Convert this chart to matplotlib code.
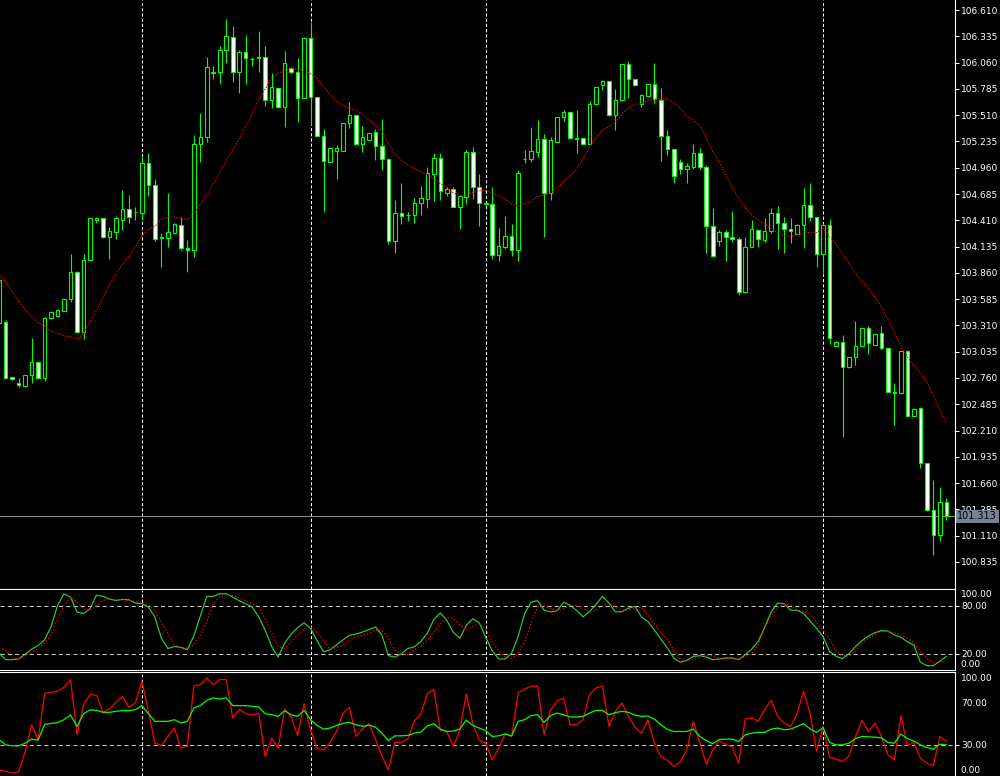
import numpy as np
import matplotlib.pyplot as plt
from matplotlib.transforms import blended_transform_factory

# OHLC bars, oldest first
opens = [103.340, 103.350, 102.768, 102.712, 102.677, 102.792, 102.928, 102.757, 103.385, 103.413,
         103.465, 103.584, 103.870, 103.238, 103.995, 104.414, 104.431, 104.232, 104.292, 104.414,
         104.525, 104.494, 104.483, 105.006, 104.776, 104.225, 104.229, 104.274, 104.358, 104.117,
         104.096, 105.205, 105.278, 105.955, 105.958, 106.192, 106.324, 105.958, 106.168, 106.101,
         106.108, 106.115, 105.669, 105.791, 105.592, 106.004, 105.962, 105.693, 106.321, 105.697,
         105.292, 105.024, 105.139, 105.139, 105.425, 105.508, 105.209, 105.250, 105.334, 105.191,
         105.048, 104.197, 104.483, 104.462, 104.462, 104.588, 104.637, 104.898, 105.059, 104.699,
         104.734, 104.553, 104.658, 105.121, 104.762, 104.588, 104.577, 104.044, 104.135, 104.243,
         104.096, 105.048, 105.055, 105.128, 105.257, 104.693, 105.233, 105.488, 105.540, 105.271,
         105.268, 105.209, 105.624, 105.822, 105.868, 105.508, 105.665, 106.042, 105.885, 105.627,
         105.714, 105.833, 105.669, 105.292, 105.153, 105.017, 104.944, 104.968, 105.111, 104.965,
         104.351, 104.194, 104.292, 104.232, 104.211, 103.664, 104.135, 104.309, 104.204, 104.299,
         104.483, 104.386, 104.323, 104.267, 104.358, 104.567, 104.442, 104.054, 104.358, 103.095,
         103.141, 102.872, 102.977, 103.099, 103.280, 103.109, 103.228, 103.071, 102.614, 102.600,
         103.040, 102.367, 102.450, 101.868, 101.376, 101.118, 101.460]
highs = [103.821, 103.364, 102.775, 102.757, 102.796, 103.179, 102.932, 103.399, 103.455, 103.483,
         103.587, 104.058, 103.877, 104.058, 104.438, 104.448, 104.438, 104.337, 104.455, 104.727,
         104.675, 104.553, 105.076, 105.111, 104.839, 104.274, 104.696, 104.379, 104.442, 104.204,
         105.303, 105.529, 106.115, 106.025, 106.234, 106.516, 106.443, 106.192, 106.349, 106.122,
         106.391, 106.234, 105.955, 105.798, 106.181, 106.018, 106.105, 106.324, 106.488, 105.704,
         105.366, 105.170, 105.195, 105.432, 105.645, 105.515, 105.397, 105.324, 105.362, 105.470,
         105.059, 104.623, 104.801, 104.494, 104.644, 104.769, 104.965, 105.114, 105.111, 104.755,
         104.755, 104.672, 105.146, 105.177, 104.895, 104.602, 104.759, 104.330, 104.455, 104.372,
         104.937, 105.146, 105.386, 105.460, 105.310, 105.285, 105.491, 105.564, 105.543, 105.564,
         105.271, 105.658, 105.805, 105.875, 105.871, 105.784, 106.049, 106.077, 105.889, 105.735,
         105.840, 106.056, 105.794, 105.355, 105.160, 105.048, 105.006, 105.209, 105.170, 104.989,
         104.536, 104.309, 104.309, 104.511, 104.239, 104.232, 104.414, 104.316, 104.431, 104.536,
         104.560, 104.442, 104.438, 104.368, 104.745, 104.804, 104.448, 104.379, 104.424, 103.144,
         103.211, 102.980, 103.361, 103.284, 103.305, 103.225, 103.305, 103.075, 102.712, 103.043,
         103.054, 102.443, 102.461, 101.872, 101.694, 101.624, 101.502]
lows = [103.315, 102.757, 102.740, 102.670, 102.670, 102.705, 102.747, 102.729, 103.378, 103.399,
        103.458, 103.559, 103.231, 103.165, 103.988, 104.386, 104.225, 104.009, 104.211, 104.309,
        104.379, 104.414, 104.414, 104.665, 104.197, 103.918, 104.135, 104.267, 104.100, 103.873,
        104.023, 105.024, 105.233, 105.892, 105.833, 106.059, 105.861, 105.739, 105.833, 106.025,
        105.965, 105.606, 105.582, 105.585, 105.390, 105.955, 105.442, 105.690, 105.407, 105.289,
        104.501, 105.017, 104.846, 105.135, 105.379, 105.205, 105.128, 105.247, 105.041, 104.937,
        104.163, 104.072, 104.375, 104.403, 104.386, 104.466, 104.539, 104.612, 104.623, 104.665,
        104.546, 104.323, 104.584, 104.630, 104.351, 104.567, 104.009, 103.988, 104.114, 104.037,
        103.988, 105.013, 105.024, 105.076, 104.239, 104.623, 105.230, 105.453, 105.264, 105.118,
        105.205, 105.205, 105.620, 105.774, 105.505, 105.355, 105.662, 105.693, 105.819, 105.592,
        105.711, 105.641, 105.031, 105.094, 104.804, 104.895, 104.797, 104.947, 104.944, 104.065,
        104.023, 104.142, 103.988, 104.187, 103.629, 103.647, 104.128, 104.135, 104.187, 104.281,
        104.107, 104.072, 104.176, 104.264, 104.117, 104.407, 103.918, 103.856, 103.113, 103.092,
        102.140, 102.869, 102.897, 103.095, 103.012, 103.106, 103.068, 102.611, 102.266, 102.597,
        102.356, 102.363, 101.816, 101.373, 100.909, 101.059, 101.275]
closes = [103.786, 102.764, 102.747, 102.684, 102.789, 102.928, 102.757, 103.385, 103.448, 103.472,
          103.584, 103.870, 103.238, 103.995, 104.431, 104.431, 104.232, 104.299, 104.431, 104.525,
          104.448, 104.501, 105.006, 104.776, 104.218, 104.236, 104.285, 104.368, 104.117, 104.096,
          105.205, 105.278, 106.011, 105.962, 106.192, 106.335, 105.958, 106.168, 106.105, 106.094,
          106.115, 105.669, 105.801, 105.592, 106.052, 105.962, 105.693, 106.321, 105.697, 105.296,
          105.034, 105.163, 105.163, 105.425, 105.508, 105.209, 105.278, 105.320, 105.191, 105.048,
          104.197, 104.483, 104.452, 104.469, 104.588, 104.640, 104.902, 105.059, 104.720, 104.741,
          104.553, 104.665, 105.121, 104.762, 104.588, 104.581, 104.044, 104.142, 104.243, 104.096,
          104.902, 105.055, 105.132, 105.257, 104.693, 105.247, 105.488, 105.540, 105.268, 105.264,
          105.209, 105.624, 105.801, 105.868, 105.508, 105.669, 106.045, 105.885, 105.822, 105.718,
          105.836, 105.676, 105.292, 105.156, 104.870, 104.944, 104.978, 105.114, 104.972, 104.351,
          104.037, 104.292, 104.232, 104.211, 103.664, 104.135, 104.323, 104.211, 104.299, 104.483,
          104.386, 104.323, 104.295, 104.365, 104.567, 104.448, 104.054, 104.358, 103.176, 103.141,
          102.879, 102.977, 103.099, 103.280, 103.123, 103.221, 103.071, 102.614, 102.607, 103.040,
          102.367, 102.440, 101.868, 101.376, 101.118, 101.460, 101.313]

# moving average (red dotted line on the price panel)
ma = [103.849, 103.765, 103.664, 103.566, 103.472, 103.402, 103.340, 103.301, 103.249, 103.225,
      103.204, 103.190, 103.165, 103.228, 103.350, 103.469, 103.605, 103.737, 103.845, 103.946,
      104.037, 104.131, 104.246, 104.319, 104.347, 104.421, 104.442, 104.442, 104.428, 104.417,
      104.476, 104.574, 104.675, 104.790, 104.909, 105.031, 105.146, 105.264, 105.390, 105.522,
      105.669, 105.784, 105.902, 105.944, 105.983, 106.000, 105.983, 105.979, 105.944, 105.896,
      105.808, 105.728, 105.655, 105.610, 105.582, 105.564, 105.519, 105.460, 105.404, 105.348,
      105.216, 105.104, 105.034, 104.989, 104.951, 104.916, 104.888, 104.842, 104.794, 104.745,
      104.699, 104.665, 104.665, 104.703, 104.720, 104.720, 104.699, 104.665, 104.633, 104.581,
      104.553, 104.588, 104.609, 104.658, 104.675, 104.693, 104.745, 104.815, 104.874, 104.944,
      105.055, 105.170, 105.285, 105.355, 105.390, 105.435, 105.522, 105.592, 105.624, 105.631,
      105.665, 105.679, 105.686, 105.679, 105.641, 105.582, 105.495, 105.460, 105.397, 105.275,
      105.128, 105.024, 104.884, 104.752, 104.640, 104.543, 104.466, 104.410, 104.372, 104.326,
      104.281, 104.246, 104.239, 104.260, 104.274, 104.285, 104.281, 104.323, 104.239, 104.159,
      104.058, 103.957, 103.856, 103.768, 103.695, 103.605, 103.500, 103.374, 103.235, 103.099,
      102.977, 102.890, 102.810, 102.719, 102.573, 102.426, 102.287]

# stochastic: main (green) and signal (red dotted)
stoch_k = [20.6, 12.3, 12.3, 13.2, 18.9, 25.5, 30.0, 37.0, 53.5, 80.2,
           94.7, 90.5, 72.0, 70.0, 76.1, 93.0, 91.4, 88.1, 86.4, 87.7,
           87.2, 83.1, 82.3, 78.2, 65.8, 39.1, 26.3, 28.8, 27.6, 24.7,
           42.0, 66.7, 91.4, 91.4, 94.7, 94.7, 90.5, 86.0, 82.3, 78.2,
           65.8, 49.4, 28.8, 15.6, 32.9, 44.4, 52.3, 58.4, 51.4, 36.2,
           22.2, 24.7, 30.9, 37.0, 42.8, 44.4, 46.9, 49.8, 53.1, 43.2,
           17.3, 15.6, 19.8, 26.3, 28.4, 35.0, 45.3, 62.6, 70.8, 61.7,
           46.5, 39.1, 55.1, 63.4, 58.4, 40.3, 23.5, 13.2, 13.2, 20.6,
           41.2, 70.0, 84.4, 86.0, 74.1, 72.0, 73.3, 84.0, 80.2, 74.1,
           65.8, 72.4, 81.5, 91.4, 83.1, 72.0, 72.4, 76.5, 79.0, 65.8,
           60.1, 49.4, 37.9, 27.2, 14.0, 9.1, 11.5, 16.5, 17.3, 15.6,
           12.3, 13.2, 14.4, 14.4, 12.3, 18.5, 25.5, 35.0, 52.7, 72.0,
           83.1, 82.3, 74.1, 74.1, 70.0, 60.9, 51.4, 41.2, 22.6, 16.5,
           13.6, 19.8, 28.8, 36.2, 42.0, 46.1, 48.6, 48.1, 43.2, 40.3,
           34.6, 30.5, 9.1, 4.9, 4.9, 10.3, 16.5]
stoch_d = [27.6, 23.5, 14.8, 13.2, 17.3, 21.4, 25.5, 32.9, 43.2, 63.8,
           80.2, 90.5, 84.0, 76.1, 73.3, 79.8, 86.4, 88.5, 87.2, 87.2,
           86.0, 85.2, 84.0, 81.1, 73.3, 59.3, 45.3, 30.9, 28.0, 26.7,
           30.9, 43.2, 59.7, 82.3, 90.9, 92.6, 92.6, 89.7, 86.0, 81.9,
           79.0, 63.0, 45.3, 28.8, 26.7, 35.0, 43.2, 51.0, 53.5, 46.1,
           35.0, 25.5, 27.2, 30.5, 37.4, 40.3, 43.2, 45.3, 49.0, 49.4,
           39.1, 23.9, 19.8, 18.5, 25.1, 28.8, 37.0, 47.3, 56.8, 64.6,
           63.8, 55.6, 49.4, 53.5, 57.6, 50.2, 35.0, 22.6, 15.6, 14.0,
           19.8, 35.0, 57.6, 78.2, 79.8, 76.1, 74.1, 76.1, 80.2, 80.2,
           76.1, 72.0, 74.1, 79.8, 82.3, 78.6, 74.5, 74.1, 76.5, 78.2,
           68.3, 57.6, 46.1, 37.0, 24.7, 13.2, 10.3, 12.3, 15.6, 17.3,
           17.3, 14.4, 13.2, 13.2, 13.2, 15.6, 20.6, 30.9, 51.4, 66.7,
           77.4, 81.5, 80.7, 74.9, 72.4, 68.7, 58.8, 49.4, 37.9, 22.6,
           18.1, 16.5, 23.0, 32.9, 39.1, 44.0, 47.3, 47.3, 46.1, 43.2,
           39.1, 33.7, 22.6, 14.4, 8.2, 9.1, 10.3]

# lower oscillator window: fast (red) and slow (green)
osc_red = [5.8, 4.5, 2.9, 3.9, 23.6, 49.5, 35.0, 79.6, 80.9, 81.6,
           85.8, 93.2, 39.8, 68.9, 78.6, 78.0, 61.5, 64.7, 71.2, 77.0,
           66.3, 70.6, 91.6, 62.5, 31.7, 29.4, 38.2, 46.3, 26.9, 28.5,
           86.7, 88.3, 94.8, 88.3, 93.2, 93.2, 56.0, 64.4, 60.2, 59.2,
           60.8, 18.8, 36.6, 26.9, 64.7, 57.0, 39.2, 69.9, 44.7, 26.9,
           25.2, 32.4, 43.0, 60.8, 66.3, 38.2, 45.6, 50.2, 35.6, 19.4,
           5.8, 32.7, 32.4, 35.9, 53.1, 59.9, 79.6, 83.5, 44.3, 43.0,
           28.5, 44.0, 79.3, 51.1, 35.0, 31.7, 15.5, 26.9, 41.1, 38.2,
           80.3, 84.1, 86.7, 86.7, 39.8, 64.1, 72.2, 75.4, 49.5, 49.5,
           54.4, 78.6, 85.1, 86.7, 47.9, 62.5, 70.6, 57.6, 47.2, 41.4,
           54.4, 31.7, 18.8, 15.2, 9.1, 13.6, 25.2, 52.8, 32.4, 11.3,
           25.2, 34.3, 30.4, 28.2, 12.3, 55.0, 56.0, 53.1, 64.1, 73.1,
           57.6, 51.1, 47.9, 60.2, 81.9, 60.8, 23.6, 47.9, 18.1, 16.5,
           13.9, 19.4, 38.2, 53.7, 43.0, 51.1, 38.2, 20.4, 15.5, 58.3,
           29.4, 32.4, 17.2, 12.3, 10.0, 38.2, 33.3]
osc_green = [35.0, 30.1, 29.1, 29.1, 31.7, 35.6, 34.6, 49.8, 50.8, 51.5,
             54.4, 58.9, 47.9, 60.2, 63.8, 63.4, 61.5, 61.5, 62.5, 63.1,
             63.1, 64.1, 68.0, 60.2, 52.8, 52.8, 52.8, 54.4, 51.1, 52.8,
             65.7, 68.0, 73.1, 75.4, 74.4, 75.4, 68.0, 68.0, 68.0, 67.3,
             66.7, 60.2, 59.2, 57.6, 63.1, 59.2, 57.6, 63.4, 54.4, 48.9,
             45.3, 46.3, 48.9, 50.8, 51.8, 49.5, 47.9, 49.2, 47.2, 41.4,
             34.3, 38.8, 38.8, 39.2, 41.4, 42.4, 48.5, 50.5, 45.3, 43.0,
             43.4, 45.3, 54.0, 48.9, 46.3, 43.7, 38.2, 38.8, 40.5, 38.8,
             52.8, 54.4, 58.3, 59.2, 51.8, 58.3, 60.8, 59.2, 57.0, 57.0,
             57.6, 60.8, 63.4, 63.4, 59.2, 61.2, 62.5, 61.5, 58.9, 57.6,
             57.9, 55.0, 49.5, 45.0, 43.0, 43.0, 43.0, 45.3, 38.2, 34.3,
             31.1, 35.3, 35.6, 35.6, 33.3, 39.8, 41.4, 42.1, 42.1, 45.3,
             46.3, 44.7, 45.3, 47.9, 50.5, 45.6, 42.1, 46.6, 32.4, 30.1,
             30.1, 31.7, 36.2, 38.2, 37.9, 37.5, 36.9, 32.4, 31.7, 40.5,
             36.2, 33.7, 30.1, 27.5, 25.9, 30.7, 30.1]

price_ticks = [106.610, 106.335, 106.060, 105.785, 105.510, 105.235, 104.960, 104.685,
               104.410, 104.135, 103.860, 103.585, 103.310, 103.035, 102.760, 102.485,
               102.210, 101.935, 101.660, 101.385, 101.110, 100.835]
sep_bars = [22, 48, 75, 127]
last_price = 101.313

GREEN = '#00ff00'
FS = 6.5
idx = np.arange(len(closes))
o = np.array(opens)
c = np.array(closes)

fig = plt.figure(figsize=(10, 7.76), dpi=100, facecolor='black')
ax = fig.add_axes([0, 0.2410, 0.955, 0.7590])
ax2 = fig.add_axes([0, 0.1372, 0.955, 0.1031])
ax3 = fig.add_axes([0, 0, 0.955, 0.1334])

for a in (ax, ax2, ax3):
    a.set_facecolor('black')
    a.set_xlim(0.126, 147.34)
    a.set_xticks([])
    for s in a.spines.values():
        s.set_visible(False)
    a.spines['right'].set_visible(True)
    a.spines['right'].set_color('white')
    a.spines['right'].set_linewidth(0.8)
    a.yaxis.tick_right()
    a.tick_params(axis='y', colors='white', length=3, width=0.7, labelsize=FS, pad=1.5)
    for b in sep_bars:
        a.axvline(b, color='white', lw=0.75, ls=(0, (3, 2)), zorder=1)

ax.spines['bottom'].set_visible(True)
ax.spines['bottom'].set_color('white')
ax2.spines['bottom'].set_visible(True)
ax2.spines['bottom'].set_color('white')
ax3.spines['top'].set_visible(True)
ax3.spines['top'].set_color('white')

# price panel
ax.set_ylim(100.552, 106.715)
ax.set_yticks(price_ticks)
ax.set_yticklabels(['%.3f' % v for v in price_ticks])
ax.vlines(idx, lows, highs, colors=GREEN, lw=0.8, zorder=2)
heights = np.maximum(np.abs(c - o), 0.0006)
faces = ['white' if cc < oo else 'black' for oo, cc in zip(o, c)]
ax.bar(idx, heights, bottom=np.minimum(o, c), width=0.55, color=faces,
       edgecolor=GREEN, linewidth=0.8, zorder=3)
ax.plot(idx, ma, color='red', lw=0.8, ls=(0, (1.2, 1.2)), zorder=4)
ax.axhline(last_price, color='#8c8c8c', lw=0.75, zorder=1.5)
tr = blended_transform_factory(ax.transAxes, ax.transData)
ax.text(1.0025, last_price, '%.3f' % last_price, transform=tr, ha='left', va='center',
        fontsize=7, color='black', clip_on=False, zorder=10,
        bbox=dict(boxstyle='square,pad=0.15', fc='#758396', ec='none'))

# stochastic panel
ax2.set_ylim(0, 100)
ax2.set_yticks([80, 20])
ax2.set_yticklabels(['80.00', '20.00'])
for lv in (80, 20):
    ax2.axhline(lv, color='#c8c8c8', lw=0.75, ls=(0, (4, 3)), zorder=1)
ax2.plot(idx, stoch_k, color='#32cd32', lw=0.85, zorder=3)
ax2.plot(idx, stoch_d, color='red', lw=0.85, ls=(0, (1.2, 1.6)), zorder=4)
tr2 = blended_transform_factory(ax2.transAxes, ax2.transData)
ax2.text(1.006, 99, '100.00', transform=tr2, ha='left', va='top', fontsize=FS, color='white', clip_on=False)
ax2.text(1.006, 1, '0.00', transform=tr2, ha='left', va='bottom', fontsize=FS, color='white', clip_on=False)

# lower oscillator panel
ax3.set_ylim(0, 100)
ax3.set_yticks([30])
ax3.set_yticklabels(['30.00'])
ax3.axhline(30, color='#c8c8c8', lw=0.75, ls=(0, (4, 3)), zorder=1)
ax3.plot(idx, osc_red, color='red', lw=0.9, zorder=3)
ax3.plot(idx, osc_green, color=GREEN, lw=0.9, zorder=4)
tr3 = blended_transform_factory(ax3.transAxes, ax3.transData)
ax3.text(1.006, 99, '100.00', transform=tr3, ha='left', va='top', fontsize=FS, color='white', clip_on=False)
ax3.text(1.006, 70, '70.00', transform=tr3, ha='left', va='center', fontsize=FS, color='white', clip_on=False)
ax3.text(1.006, 1, '0.00', transform=tr3, ha='left', va='bottom', fontsize=FS, color='white', clip_on=False)

fig.savefig('out.png', dpi=100, facecolor='black')
